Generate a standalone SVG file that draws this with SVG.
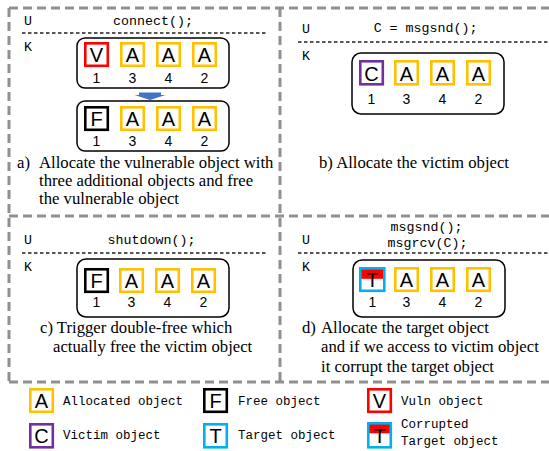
<svg xmlns="http://www.w3.org/2000/svg" width="549" height="451" viewBox="0 0 549 451">
<style>
.frame{fill:none;stroke:#909090;stroke-width:3;stroke-dasharray:9 5}
.sep{fill:none;stroke:#222;stroke-width:1.3;stroke-dasharray:3.5 2.5}
.grp{fill:#fff;stroke:#000;stroke-width:1.5}
.obj{fill:#fff;stroke-width:2.6}
.a{stroke:#FFC000}.v{stroke:#FF0000}.f{stroke:#000}.c{stroke:#7030A0}.t{stroke:#00B0F0}
.ltr{font-family:"Liberation Sans",Arial,sans-serif;font-size:20px;text-anchor:middle;fill:#000}
.num{font-family:"Liberation Sans",Arial,sans-serif;font-size:14px;text-anchor:middle;fill:#000}
.code{font-family:"Liberation Mono","DejaVu Sans Mono",monospace;font-size:13.3px;fill:#000}
.mid{text-anchor:middle}
.cap{font-family:"Liberation Serif","Times New Roman",serif;font-size:16.7px;fill:#000}
.leg{font-family:"Liberation Mono","DejaVu Sans Mono",monospace;font-size:12.5px;fill:#000}
</style>
<defs>
<g id="row">
</g>
</defs>
<g id="frame">
<line class="frame" x1="9" y1="8" x2="549" y2="8"/>
<line class="frame" x1="9" y1="8" x2="9" y2="382"/>
<line class="frame" x1="9" y1="382" x2="549" y2="382"/>
<line class="frame" x1="9" y1="216" x2="549" y2="216"/>
<line class="frame" x1="280" y1="8" x2="280" y2="382"/>
</g>

<g id="panel-a">
<text class="code" x="24" y="25">U</text>
<text class="code mid" x="153" y="25">connect();</text>
<line class="sep" x1="22" y1="33" x2="268" y2="33"/>
<text class="code" x="24" y="51">K</text>
<g id="a-row1">
<rect class="grp" x="77" y="38" width="152" height="50" rx="8"/>
<rect class="obj v" x="85.3" y="43.3" width="22.5" height="22.5"/><text class="ltr" x="96.5" y="62">V</text>
<rect class="obj a" x="121.3" y="43.3" width="22.5" height="22.5"/><text class="ltr" x="132.5" y="62">A</text>
<rect class="obj a" x="157.3" y="43.3" width="22.5" height="22.5"/><text class="ltr" x="168.5" y="62">A</text>
<rect class="obj a" x="193.3" y="43.3" width="22.5" height="22.5"/><text class="ltr" x="204.5" y="62">A</text>
<text class="num" x="96.5" y="83">1</text><text class="num" x="132.5" y="83">3</text><text class="num" x="168.5" y="83">4</text><text class="num" x="204.5" y="83">2</text>
</g>
<g id="a-arrow">
<polygon points="139,92.5 161,92.5 161,95 165.5,95 150,100 134.5,95 139,95" fill="#4472C4"/>
</g>
<g id="a-row2">
<rect class="grp" x="77" y="101" width="152" height="50" rx="8"/>
<rect class="obj f" x="85.3" y="107.3" width="22.5" height="22.5"/><text class="ltr" x="96.5" y="126">F</text>
<rect class="obj a" x="121.3" y="107.3" width="22.5" height="22.5"/><text class="ltr" x="132.5" y="126">A</text>
<rect class="obj a" x="157.3" y="107.3" width="22.5" height="22.5"/><text class="ltr" x="168.5" y="126">A</text>
<rect class="obj a" x="193.3" y="107.3" width="22.5" height="22.5"/><text class="ltr" x="204.5" y="126">A</text>
<text class="num" x="96.5" y="146">1</text><text class="num" x="132.5" y="146">3</text><text class="num" x="168.5" y="146">4</text><text class="num" x="204.5" y="146">2</text>
</g>
<text class="cap" x="17" y="168">a)</text>
<text class="cap" x="39" y="168">Allocate the vulnerable object with</text>
<text class="cap" x="39" y="186">three additional objects and free</text>
<text class="cap" x="39" y="204">the vulnerable object</text>
</g>

<g id="panel-b">
<text class="code" x="302" y="33">U</text>
<text class="code mid" x="425.5" y="32">C = msgsnd();</text>
<line class="sep" x1="298" y1="42" x2="549" y2="42"/>
<text class="code" x="302" y="60">K</text>
<g id="b-row">
<rect class="grp" x="352" y="53" width="152" height="61" rx="9"/>
<rect class="obj c" x="360.3" y="61.3" width="22.5" height="23"/><text class="ltr" x="371.5" y="80.5">C</text>
<rect class="obj a" x="395.3" y="61.3" width="22.5" height="23"/><text class="ltr" x="406.5" y="80.5">A</text>
<rect class="obj a" x="431.3" y="61.3" width="22.5" height="23"/><text class="ltr" x="442.5" y="80.5">A</text>
<rect class="obj a" x="467.3" y="61.3" width="22.5" height="23"/><text class="ltr" x="478.5" y="80.5">A</text>
<text class="num" x="371.5" y="104">1</text><text class="num" x="406.5" y="104">3</text><text class="num" x="442.5" y="104">4</text><text class="num" x="478.5" y="104">2</text>
</g>
<text class="cap" x="319" y="168">b) Allocate the victim object</text>
</g>

<g id="panel-c">
<text class="code" x="24" y="244">U</text>
<text class="code mid" x="151.5" y="244">shutdown();</text>
<line class="sep" x1="22" y1="253" x2="268" y2="253"/>
<text class="code" x="24" y="271">K</text>
<g id="c-row">
<rect class="grp" x="77" y="259" width="152" height="58" rx="9"/>
<rect class="obj f" x="85.3" y="269.3" width="22.5" height="22.5"/><text class="ltr" x="96.5" y="288">F</text>
<rect class="obj a" x="120.3" y="269.3" width="22.5" height="22.5"/><text class="ltr" x="131.5" y="288">A</text>
<rect class="obj a" x="156.3" y="269.3" width="22.5" height="22.5"/><text class="ltr" x="167.5" y="288">A</text>
<rect class="obj a" x="192.3" y="269.3" width="22.5" height="22.5"/><text class="ltr" x="203.5" y="288">A</text>
<text class="num" x="96.5" y="307">1</text><text class="num" x="131.5" y="307">3</text><text class="num" x="167.5" y="307">4</text><text class="num" x="203.5" y="307">2</text>
</g>
<text class="cap" x="40" y="333">c) Trigger double-free which</text>
<text class="cap" x="53" y="352">actually free the victim object</text>
</g>

<g id="panel-d">
<text class="code mid" x="426.5" y="231">msgsnd();</text>
<text class="code mid" x="427.5" y="247">msgrcv(C);</text>
<text class="code" x="302" y="244">U</text>
<line class="sep" x1="298" y1="253" x2="549" y2="253"/>
<text class="code" x="302" y="271">K</text>
<g id="d-row">
<rect class="grp" x="353" y="260" width="152" height="57" rx="9"/>
<rect x="360.3" y="268.3" width="24" height="10.5" fill="#FF0000"/>
<rect class="obj t" x="360.3" y="268.3" width="24" height="22.5" fill="none" style="fill:none"/><text class="ltr" x="372.3" y="287">T</text>
<rect class="obj a" x="395.3" y="268.3" width="22.5" height="22.5"/><text class="ltr" x="406.5" y="287">A</text>
<rect class="obj a" x="431.3" y="268.3" width="22.5" height="22.5"/><text class="ltr" x="442.5" y="287">A</text>
<rect class="obj a" x="467.3" y="268.3" width="22.5" height="22.5"/><text class="ltr" x="478.5" y="287">A</text>
<text class="num" x="372.3" y="307">1</text><text class="num" x="406.5" y="307">3</text><text class="num" x="442.5" y="307">4</text><text class="num" x="478.5" y="307">2</text>
</g>
<text class="cap" x="302" y="333">d)</text>
<text class="cap" x="321" y="333">Allocate the target object</text>
<text class="cap" x="321" y="352">and if we access to victim object</text>
<text class="cap" x="321" y="372">it corrupt the target object</text>
</g>

<g id="legend">
<g id="leg-alloc">
<rect class="obj a" x="30.3" y="389.3" width="22.5" height="22.5"/><text class="ltr" x="41.5" y="408">A</text>
<text class="leg" x="63" y="405">Allocated object</text>
</g>
<g id="leg-free">
<rect class="obj f" x="204.3" y="389.3" width="22.5" height="22.5"/><text class="ltr" x="215.5" y="408">F</text>
<text class="leg" x="238" y="405">Free object</text>
</g>
<g id="leg-vuln">
<rect class="obj v" x="368.3" y="389.3" width="22.5" height="22.5"/><text class="ltr" x="379.5" y="408">V</text>
<text class="leg" x="401" y="405">Vuln object</text>
</g>
<g id="leg-victim">
<rect class="obj c" x="30.3" y="424.3" width="22.5" height="23"/><text class="ltr" x="41.5" y="443">C</text>
<text class="leg" x="63" y="439">Victim object</text>
</g>
<g id="leg-target">
<rect class="obj t" x="204.3" y="424.3" width="22.5" height="23"/><text class="ltr" x="215.5" y="443">T</text>
<text class="leg" x="238" y="439">Target object</text>
</g>
<g id="leg-corrupt">
<rect x="368.3" y="423.3" width="22.5" height="10" fill="#FF0000"/>
<rect class="obj t" x="368.3" y="423.3" width="22.5" height="24" style="fill:none"/><text class="ltr" x="379.5" y="443">T</text>
<text class="leg" x="401" y="428">Corrupted</text>
<text class="leg" x="401" y="445">Target object</text>
</g>
</g>
</svg>
